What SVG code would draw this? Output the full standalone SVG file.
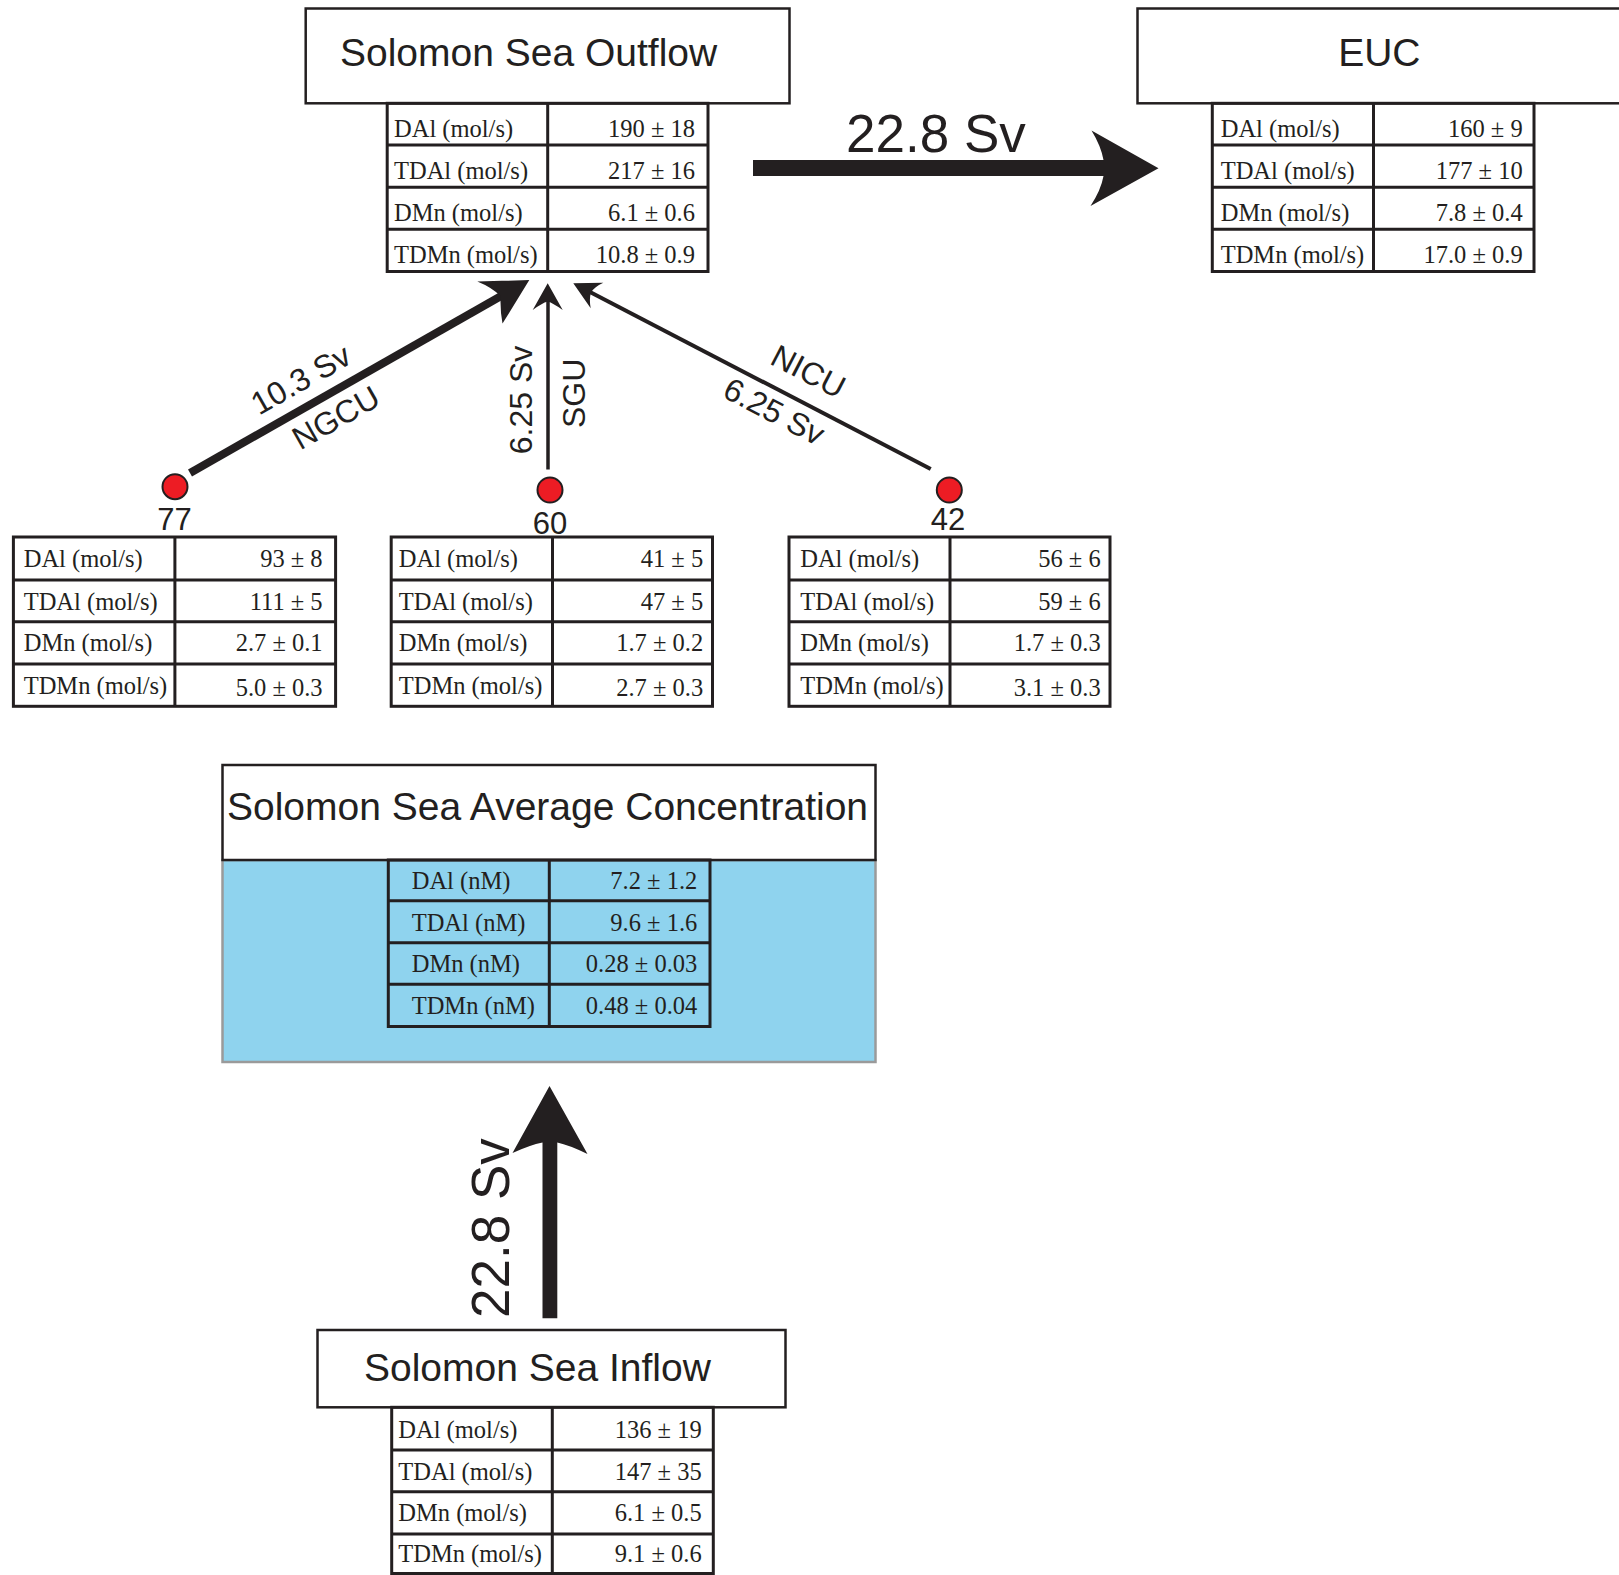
<svg xmlns="http://www.w3.org/2000/svg" width="1619" height="1575" viewBox="0 0 1619 1575">
<style>
.bg{fill:#ffffff}
.box{fill:#ffffff;stroke:#231f20;stroke-width:2.5}
.tbl{fill:none;stroke:#231f20;stroke-width:3}
.title{font-family:"Liberation Sans",Arial,Helvetica,sans-serif;font-size:39px;fill:#231f20}
.cell{font-family:"Liberation Serif","Times New Roman",serif;font-size:24.5px;fill:#231f20}
.val{text-anchor:end}
.flow{font-family:"Liberation Sans",Arial,Helvetica,sans-serif;font-size:32px;fill:#231f20;text-anchor:middle}
.big{font-family:"Liberation Sans",Arial,Helvetica,sans-serif;font-size:53px;fill:#231f20}
.stn{font-family:"Liberation Sans",Arial,Helvetica,sans-serif;font-size:31px;fill:#231f20;text-anchor:middle}
.dot{fill:#ed1c24;stroke:#231f20;stroke-width:2}
.fill{fill:#231f20;stroke:none}
.line{fill:none;stroke:#231f20;stroke-linecap:butt}
.sea{fill:#8fd3ee;stroke:#9a9a9a;stroke-width:2.5}
</style>
<rect class="bg" x="0" y="0" width="1619" height="1575"/>

<g id="outflow">
<rect class="box" x="305.7" y="8.5" width="483.8" height="94.8"/>
<text class="title" x="340" y="66">Solomon Sea Outflow</text>
<rect class="tbl" x="387.2" y="103.3" width="320.8" height="168.2"/>
<path class="tbl" d="M547.7,103.3V271.5M387.2,145H708M387.2,187.3H708M387.2,229.3H708"/>
<text class="cell" x="394" y="136.8">DAl (mol/s)</text>
<text class="cell" x="394" y="178.5">TDAl (mol/s)</text>
<text class="cell" x="394" y="220.8">DMn (mol/s)</text>
<text class="cell" x="394" y="262.8">TDMn (mol/s)</text>
<text class="cell val" x="695" y="136.8">190 ± 18</text>
<text class="cell val" x="695" y="178.5">217 ± 16</text>
<text class="cell val" x="695" y="220.8">6.1 ± 0.6</text>
<text class="cell val" x="695" y="262.8">10.8 ± 0.9</text>
</g>

<g id="euc">
<rect class="box" x="1137.5" y="8.5" width="490" height="94.8"/>
<text class="title" x="1379.3" y="66" text-anchor="middle">EUC</text>
<rect class="tbl" x="1212.3" y="103.3" width="321.7" height="168.2"/>
<path class="tbl" d="M1373.5,103.3V271.5M1212.3,145H1534M1212.3,187.3H1534M1212.3,229.3H1534"/>
<text class="cell" x="1220.7" y="136.8">DAl (mol/s)</text>
<text class="cell" x="1220.7" y="178.5">TDAl (mol/s)</text>
<text class="cell" x="1220.7" y="220.8">DMn (mol/s)</text>
<text class="cell" x="1220.7" y="262.8">TDMn (mol/s)</text>
<text class="cell val" x="1522.7" y="136.8">160 ± 9</text>
<text class="cell val" x="1522.7" y="178.5">177 ± 10</text>
<text class="cell val" x="1522.7" y="220.8">7.8 ± 0.4</text>
<text class="cell val" x="1522.7" y="262.8">17.0 ± 0.9</text>
</g>

<g id="station77">
<circle class="dot" cx="175" cy="486.7" r="12.5"/>
<text class="stn" x="174.5" y="529.5">77</text>
<rect class="tbl" x="13.4" y="537" width="322.2" height="169.3"/>
<path class="tbl" d="M174.9,537V706.3M13.4,580H335.6M13.4,621.7H335.6M13.4,664H335.6"/>
<text class="cell" x="23.7" y="567">DAl (mol/s)</text>
<text class="cell" x="23.7" y="609.5">TDAl (mol/s)</text>
<text class="cell" x="23.7" y="651.2">DMn (mol/s)</text>
<text class="cell" x="23.7" y="693.5">TDMn (mol/s)</text>
<text class="cell val" x="322.6" y="567">93 ± 8</text>
<text class="cell val" x="322.6" y="609.5">111 ± 5</text>
<text class="cell val" x="322.6" y="651.2">2.7 ± 0.1</text>
<text class="cell val" x="322.6" y="695.5">5.0 ± 0.3</text>
</g>

<g id="station60">
<circle class="dot" cx="550" cy="490" r="12.5"/>
<text class="stn" x="550" y="533.5">60</text>
<rect class="tbl" x="391.2" y="537" width="321.3" height="169.3"/>
<path class="tbl" d="M552.5,537V706.3M391.2,580H712.5M391.2,621.7H712.5M391.2,664H712.5"/>
<text class="cell" x="398.8" y="567">DAl (mol/s)</text>
<text class="cell" x="398.8" y="609.5">TDAl (mol/s)</text>
<text class="cell" x="398.8" y="651.2">DMn (mol/s)</text>
<text class="cell" x="398.8" y="693.5">TDMn (mol/s)</text>
<text class="cell val" x="703.2" y="567">41 ± 5</text>
<text class="cell val" x="703.2" y="609.5">47 ± 5</text>
<text class="cell val" x="703.2" y="651.2">1.7 ± 0.2</text>
<text class="cell val" x="703.2" y="695.5">2.7 ± 0.3</text>
</g>

<g id="station42">
<circle class="dot" cx="949.3" cy="490" r="12.5"/>
<text class="stn" x="948" y="530">42</text>
<rect class="tbl" x="789" y="537" width="321" height="169.3"/>
<path class="tbl" d="M950,537V706.3M789,580H1110M789,621.7H1110M789,664H1110"/>
<text class="cell" x="800.2" y="567">DAl (mol/s)</text>
<text class="cell" x="800.2" y="609.5">TDAl (mol/s)</text>
<text class="cell" x="800.2" y="651.2">DMn (mol/s)</text>
<text class="cell" x="800.2" y="693.5">TDMn (mol/s)</text>
<text class="cell val" x="1100.7" y="567">56 ± 6</text>
<text class="cell val" x="1100.7" y="609.5">59 ± 6</text>
<text class="cell val" x="1100.7" y="651.2">1.7 ± 0.3</text>
<text class="cell val" x="1100.7" y="695.5">3.1 ± 0.3</text>
</g>

<g id="average">
<rect class="sea" x="222.5" y="860" width="653" height="202"/>
<rect class="box" x="222.5" y="765" width="653" height="95"/>
<text class="title" x="227" y="820">Solomon Sea Average Concentration</text>
<rect class="tbl" x="388.3" y="860" width="321.7" height="166.5"/>
<path class="tbl" d="M549.3,860V1026.5M388.3,900.7H710M388.3,942.7H710M388.3,984.3H710"/>
<text class="cell" x="411.7" y="889.3">DAl (nM)</text>
<text class="cell" x="411.7" y="930.5">TDAl (nM)</text>
<text class="cell" x="411.7" y="972">DMn (nM)</text>
<text class="cell" x="411.7" y="1013.5">TDMn (nM)</text>
<text class="cell val" x="697.3" y="889.3">7.2 ± 1.2</text>
<text class="cell val" x="697.3" y="930.5">9.6 ± 1.6</text>
<text class="cell val" x="697.3" y="972">0.28 ± 0.03</text>
<text class="cell val" x="697.3" y="1013.5">0.48 ± 0.04</text>
</g>

<g id="inflow">
<rect class="box" x="317.5" y="1330" width="468" height="77.3"/>
<text class="title" x="364" y="1381">Solomon Sea Inflow</text>
<rect class="tbl" x="391.7" y="1407.3" width="321.6" height="166.2"/>
<path class="tbl" d="M552.3,1407.3V1573.5M391.7,1450H713.3M391.7,1491.7H713.3M391.7,1534H713.3"/>
<text class="cell" x="398.3" y="1438.3">DAl (mol/s)</text>
<text class="cell" x="398.3" y="1479.5">TDAl (mol/s)</text>
<text class="cell" x="398.3" y="1521">DMn (mol/s)</text>
<text class="cell" x="398.3" y="1562.3">TDMn (mol/s)</text>
<text class="cell val" x="701.7" y="1438.3">136 ± 19</text>
<text class="cell val" x="701.7" y="1479.5">147 ± 35</text>
<text class="cell val" x="701.7" y="1521">6.1 ± 0.5</text>
<text class="cell val" x="701.7" y="1562.3">9.1 ± 0.6</text>
</g>

<g id="connectors">
<path class="fill" d="M753,160L1103.5,160Q1101,146 1091.5,130.5L1158.5,168.3L1090.5,206Q1101,190 1103.5,176L753,176Z"/>
<text class="big" x="846" y="151.7">22.8 Sv</text>

<path class="fill" d="M542.5,1318.3L542.5,1142.5Q530,1145 512.5,1153L549.5,1086L587.5,1154Q569,1145 557.3,1142.5L557.3,1318.3Z"/>
<text class="big" transform="translate(509,1318) rotate(-90)">22.8 Sv</text>

<line class="line" x1="190" y1="473" x2="502" y2="295.5" stroke-width="8"/>
<path class="fill" d="M529.3,280L477.3,281.6Q492,287.5 500.6,296.3Q500,310 502.5,323.6Z"/>
<text class="flow" transform="translate(306.2,389) rotate(-29.6)">10.3 Sv</text>
<text class="flow" transform="translate(341.3,427.2) rotate(-29.6)">NGCU</text>

<line class="line" x1="548" y1="469.5" x2="548" y2="300" stroke-width="3.5"/>
<path class="fill" d="M547.7,283.3L562.7,310Q553,303 547.7,301.5Q542,303 532.7,310Z"/>
<text class="flow" transform="translate(532,400) rotate(-90)">6.25 Sv</text>
<text class="flow" transform="translate(585,393.3) rotate(-90)">SGU</text>

<line class="line" x1="930.7" y1="469" x2="590" y2="292" stroke-width="4"/>
<path class="fill" d="M573.3,283.3L603.3,282.7Q594,287 591,292.5Q589,299 590.7,308.3Z"/>
<text class="flow" transform="translate(803.2,381.2) rotate(27.5)">NICU</text>
<text class="flow" transform="translate(769,421.2) rotate(27.5)">6.25 Sv</text>
</g>
</svg>
